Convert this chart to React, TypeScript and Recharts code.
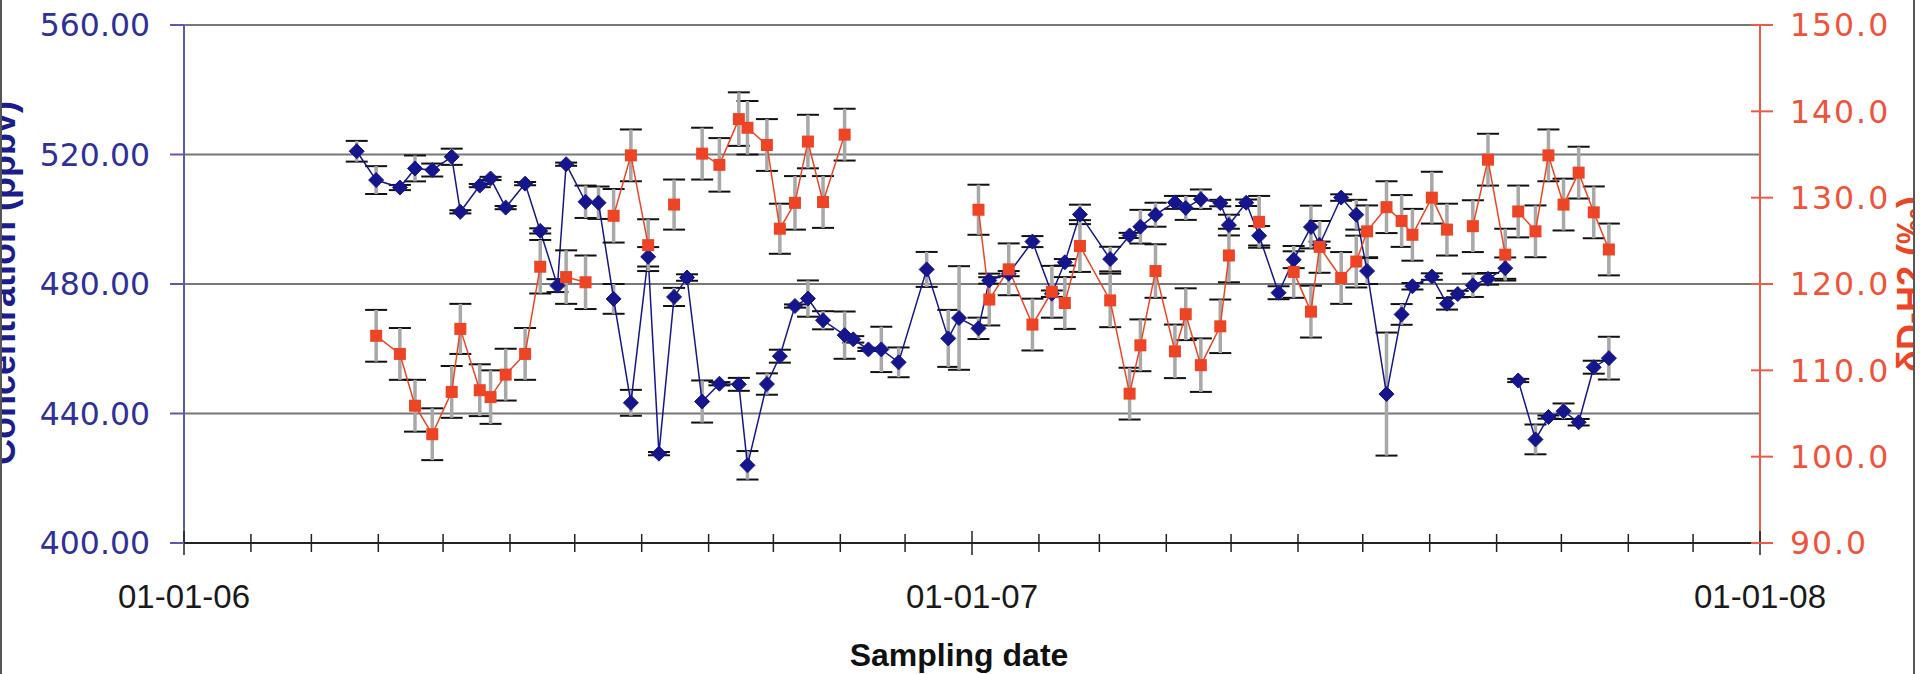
import { LineChart, Line, XAxis, YAxis, CartesianGrid, ErrorBar } from "recharts";

// sampling dates (one row per field campaign, an empty row marks a break in both series)
const sampleDates = [
  "2006-03-22", "2006-03-31", "2006-04-11", "2006-04-18", "2006-04-26", "2006-05-05", "2006-05-09",
  "2006-05-18", "2006-05-23", "2006-05-30", "2006-06-08", "2006-06-15", "2006-06-23", "2006-06-27",
  "2006-07-06", "2006-07-12", "2006-07-19", "2006-07-27", "2006-08-04", "2006-08-09", "2006-08-16",
  "2006-08-22", "2006-08-29", "2006-09-06", "2006-09-15", "2006-09-19", "2006-09-28", "2006-10-04",
  "2006-10-11", "2006-10-17", "2006-10-24", "2006-11-03", "2006-11-07", "2006-11-14", "2006-11-20",
  "2006-11-28", "2006-12-11", "2006-12-21", "2006-12-26", "2007-01-04", "2007-01-09", "2007-01-18",
  "2007-01-29", "2007-02-07", "2007-02-13", "2007-02-20", "2007-03-06", "2007-03-15", "2007-03-20",
  "2007-03-27", "2007-04-05", "2007-04-10", "2007-04-17", "2007-04-26", "2007-04-30", "2007-05-08",
  "2007-05-14", "2007-05-23", "2007-05-30", "2007-06-07", "2007-06-11", "2007-06-21", "2007-06-28",
  "2007-07-03", "2007-07-12", "2007-07-19", "2007-07-24", "2007-08-02", "2007-08-09", "2007-08-14",
  "2007-08-21", "2007-08-28", "2007-09-05", "2007-09-08", "2007-09-11", "2007-09-19", "2007-09-25",
  "2007-10-02", "2007-10-09", "2007-10-16", "2007-10-23",
];

// H2 mixing ratio, ppbv
const concentration = [
  521.0, 512.1, 509.8, 515.7, 515.2, 519.3, 502.3,
  510.4, 512.6, 503.6, 511.0, 496.4, 479.5, 517.0,
  505.4, 505.1, 475.4, 443.3, 488.4, 427.6, 476.0,
  482.0, 443.7, 449.2, 449.0, 424.0, 449.1, 457.7,
  473.2, 475.5, 468.8, 464.2, 462.9, 459.8, 459.8,
  455.8, 484.5, 463.2, 469.5, 466.3, 481.1, 483.2,
  493.1, 477.0, 486.7, 501.5, 487.7, 495.0, 497.7,
  501.4, 505.2, 503.5, 506.2, 505.0, 498.2, 505.1,
  494.9, 477.3, 487.5, 497.6, 492.1, 506.7, 501.4,
  484.0, 446.0, 470.6, 479.3, 482.3, 473.9, 476.9,
  479.6, 481.6, 484.9, null, 450.2, 432.0, 438.9,
  440.7, 437.3, 454.3, 457.1,
];

const concentrationErr = [
  3.2, 4.3, 0.8, 4.0, 2.0, 2.5, 0.5,
  0.5, 0.5, 0.5, 0.5, 0.8, 2.0, 0.5,
  5.0, 5.0, 4.6, 4.0, 3.0, 0.5, 2.8,
  1.0, 6.5, 0.5, 2.0, 4.4, 3.3, 2.0,
  0.5, 5.6, 2.8, 7.3, 1.0, 0.5, 7.0,
  4.6, 5.4, 8.8, 16.0, 3.3, 1.0, 0.8,
  1.7, 1.0, 1.0, 3.0, 3.8, 0.8, 5.2,
  3.7, 2.0, 3.7, 3.0, 1.0, 3.2, 1.0,
  3.0, 2.0, 2.6, 6.6, 1.0, 1.0, 4.6,
  4.0, 19.0, 3.2, 1.0, 1.0, 1.8, 1.0,
  3.6, 1.8, 3.3, null, 0.5, 4.6, 0.5,
  2.4, 1.0, 2.0, 6.6,
];

// deuterium content of H2, permil
const deltaD = [
  null, 114.0, 111.9, 105.9, 102.6, 107.5, 114.8,
  107.7, 106.9, 109.5, 111.9, 122.0, null, 120.8,
  120.2, null, 127.9, 134.9, 124.5, null, 129.2,
  null, 135.1, 133.8, 139.1, 138.1, 136.1, 126.4,
  129.4, 136.5, 129.5, 137.3, null, null, null,
  null, null, null, null, 128.6, 118.2, 121.7,
  115.3, 119.1, 117.8, 124.4, 118.1, 107.3, 112.9,
  121.5, 112.2, 116.5, 110.6, 115.1, 123.3, null,
  127.2, null, 121.4, 116.8, 124.3, 120.7, 122.6,
  126.1, 128.9, 127.3, 125.7, 130.0, 126.3, null,
  126.7, 134.4, 123.4, null, 128.4, 126.1, 134.9,
  129.2, 132.9, 128.3, 124.0,
];

const deltaDErr = [
  null, 3.0, 3.0, 3.0, 3.0, 3.0, 2.9,
  3.0, 3.1, 3.0, 3.0, 3.1, null, 3.1,
  3.1, null, 3.1, 3.0, 3.0, null, 2.9,
  null, 3.0, 3.1, 3.1, 3.1, 3.0, 2.9,
  3.1, 3.1, 3.0, 3.0, null, null, null,
  null, null, null, null, 2.9, 3.0, 3.0,
  3.0, 3.0, 3.0, 3.0, 3.1, 3.0, 3.0,
  3.1, 3.1, 3.0, 3.1, 3.1, 3.1, null,
  3.0, null, 3.0, 3.0, 3.0, 3.0, 3.0,
  3.0, 3.0, 3.0, 3.0, 3.0, 3.0, null,
  3.0, 3.0, 3.0, null, 3.0, 3.0, 3.0,
  3.0, 3.0, 3.0, 3.0,
];

const concTicks = [400, 440, 480, 520, 560];
const deltaTicks = [90, 100, 110, 120, 130, 140, 150];
const axisYears = [2006, 2007, 2008];

const toTime = (s: string) => {
  const [y, m, d] = s.split("-").map(Number);
  return Date.UTC(y, m - 1, d);
};

const rows = sampleDates.map((d, i) => ({
  t: toTime(d),
  conc: concentration[i],
  concErr: concentrationErr[i],
  dd: deltaD[i],
  ddErr: deltaDErr[i],
}));

// monthly minor ticks, year labels
const monthTicks: number[] = [];
axisYears.slice(0, -1).forEach((y) => {
  for (let m = 0; m < 12; m++) monthTicks.push(Date.UTC(y, m, 1));
});
monthTicks.push(Date.UTC(axisYears[axisYears.length - 1], 0, 1));

const BLUE = "#16168c";
const RED = "#ee4426";

const fmtDate = (v: number) => {
  const d = new Date(v);
  const p = (n: number) => String(n).padStart(2, "0");
  return `${p(d.getUTCDate())}-${p(d.getUTCMonth() + 1)}-${p(d.getUTCFullYear() % 100)}`;
};

const XTick = ({ x, y, payload }: any) => {
  const major = new Date(payload.value).getUTCMonth() === 0;
  const h = major ? 12 : 9;
  return (
    <g>
      <line x1={x} x2={x} y1={y - h} y2={y + h} stroke="#222" strokeWidth={1.5} />
      {major && (
        <text x={x} y={y + 65} textAnchor="middle" fontFamily="'Liberation Sans', Arial" fontSize={33} fill="#1a1a1a">
          {fmtDate(payload.value)}
        </text>
      )}
    </g>
  );
};

const LeftTick = ({ x, y, payload }: any) => (
  <g>
    <line x1={x - 14} x2={x} y1={y} y2={y} stroke="#5a5ab4" strokeWidth={2} />
    <text x={x - 34} y={y} dy="0.36em" textAnchor="end" fontFamily="'DejaVu Sans'" fontSize={31.5} fill="#30309a">
      {Number(payload.value).toFixed(2)}
    </text>
  </g>
);

const RightTick = ({ x, y, payload }: any) => (
  <g>
    <line x1={x - 9} x2={x + 13} y1={y} y2={y} stroke="#ee5a44" strokeWidth={2} />
    <text x={x + 30} y={y} dy="0.36em" textAnchor="start" fontFamily="'DejaVu Sans'" fontSize={31.5} letterSpacing={2} fill="#f0523a">
      {Number(payload.value).toFixed(1)}
    </text>
  </g>
);

const Diamond = ({ cx, cy, value }: any) => {
  if (cx == null || cy == null || value == null) return <g />;
  const s = 7.5;
  return (
    <path d={`M${cx},${cy - s}L${cx + s},${cy}L${cx},${cy + s}L${cx - s},${cy}Z`} fill={BLUE} stroke={BLUE} strokeWidth={1} />
  );
};

const Square = ({ cx, cy, value }: any) => {
  if (cx == null || cy == null || value == null) return <g />;
  return <rect x={cx - 6} y={cy - 6} width={12} height={12} fill={RED} />;
};

export default function App() {
  return (
    <div style={{ position: "absolute", left: 0, top: 0, width: 1920, height: 674, background: "#fff", overflow: "hidden" }}>
      <LineChart width={1920} height={674} data={rows} margin={{ top: 25, right: 0, bottom: 0, left: 0 }}>
        <CartesianGrid yAxisId="left" vertical={false} stroke="#777" strokeWidth={2.2} />
        <XAxis
          dataKey="t"
          type="number"
          domain={[monthTicks[0], monthTicks[monthTicks.length - 1]]}
          ticks={monthTicks}
          interval={0}
          height={131}
          tickLine={false}
          tickSize={0}
          tickMargin={0}
          tick={<XTick />}
          axisLine={{ stroke: "#222", strokeWidth: 2 }}
        />
        <YAxis
          yAxisId="left"
          width={184}
          domain={[400, 560]}
          ticks={concTicks}
          interval={0}
          tickLine={false}
          tickSize={0}
          tickMargin={0}
          tick={<LeftTick />}
          axisLine={{ stroke: "#5a5ab4", strokeWidth: 2 }}
        />
        <YAxis
          yAxisId="right"
          orientation="right"
          width={160}
          domain={[90, 150]}
          ticks={deltaTicks}
          interval={0}
          tickLine={false}
          tickSize={0}
          tickMargin={0}
          tick={<RightTick />}
          axisLine={{ stroke: "#ee5a44", strokeWidth: 2 }}
        />
        <Line
          yAxisId="left"
          dataKey="conc"
          stroke={BLUE}
          strokeWidth={1.5}
          dot={(p: any) => <Diamond key={`c${p.index}`} {...p} />}
          activeDot={false}
          connectNulls={false}
          isAnimationActive={false}
        >
          <ErrorBar dataKey="concErr" direction="y" width={11} stroke="#111" strokeWidth={2} />
          <ErrorBar dataKey="concErr" direction="y" width={0} stroke="#a8a8a8" strokeWidth={3.5} />
        </Line>
        <Line
          yAxisId="right"
          dataKey="dd"
          stroke={RED}
          strokeWidth={1.5}
          dot={(p: any) => <Square key={`d${p.index}`} {...p} />}
          activeDot={false}
          connectNulls={false}
          isAnimationActive={false}
        >
          <ErrorBar dataKey="ddErr" direction="y" width={11} stroke="#111" strokeWidth={2} />
          <ErrorBar dataKey="ddErr" direction="y" width={0} stroke="#a8a8a8" strokeWidth={3.5} />
        </Line>
      </LineChart>

      {/* axis titles and frame */}
      <svg width={1920} height={674} style={{ position: "absolute", left: 0, top: 0, pointerEvents: "none" }}>
        <defs>
          <clipPath id="frame">
            <rect x={0} y={0} width={1913} height={674} />
          </clipPath>
        </defs>
        <text
          transform="translate(15,283) rotate(-90)"
          textAnchor="middle"
          fontFamily="'Liberation Sans', Arial"
          fontWeight="bold"
          fontSize={36}
          fill="#1c1c8c"
        >
          Concentration (ppbv)
        </text>
        <g clipPath="url(#frame)">
          <text
            transform="translate(1923,284) rotate(-90)"
            textAnchor="middle"
            fontFamily="'Liberation Sans', Arial"
            fontWeight="bold"
            fontSize={36}
            fill="#ee4426"
          >
            δD-H2 (‰)
          </text>
        </g>
        <text x={959} y={666} textAnchor="middle" fontFamily="'Liberation Sans', Arial" fontWeight="bold" fontSize={32} fill="#111">
          Sampling date
        </text>
        <line x1={1} x2={1} y1={0} y2={674} stroke="#555" strokeWidth={2} />
        <line x1={1914} x2={1914} y1={0} y2={674} stroke="#555" strokeWidth={2} />
      </svg>
    </div>
  );
}
